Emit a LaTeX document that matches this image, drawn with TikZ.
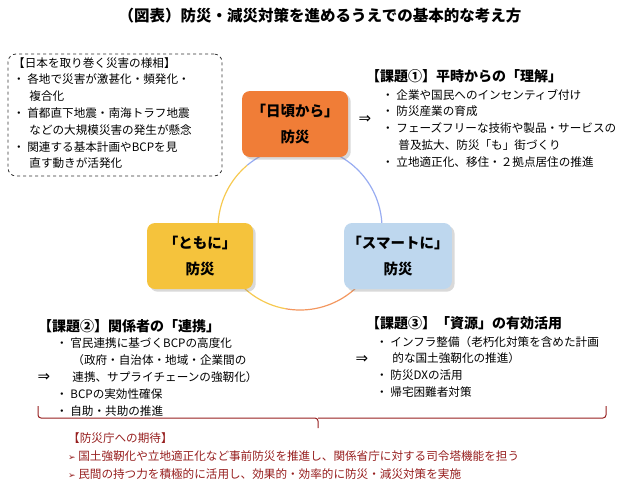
\documentclass[tikz,border=0pt]{standalone}
\usepackage{fontspec}
\setmainfont{Noto Sans CJK JP}
\newfontfamily\djv{DejaVu Sans}
\usetikzlibrary{shadows}
\definecolor{dred}{RGB}{150,30,30}
\definecolor{orng}{RGB}{240,125,55}
\definecolor{ylw}{RGB}{245,195,60}
\definecolor{lblue}{RGB}{190,215,238}
\tikzset{
  card/.style={rounded corners=8pt,minimum width=106pt,minimum height=66pt,align=center,font=\fontsize{14.5}{26}\selectfont\bfseries,drop shadow={opacity=0.3}},
  txt/.style={anchor=north west,align=left,font=\fontsize{11.6}{16.8}\selectfont,inner sep=0pt},
  head/.style={anchor=west,font=\fontsize{14}{15}\selectfont\bfseries,inner sep=0pt},
  arr/.style={font=\fontsize{15}{15}\selectfont,inner sep=0pt}
}
\begin{document}
\begin{tikzpicture}[x=1pt,y=-1pt]
\useasboundingbox (0,0) rectangle (640,488);
\node[font=\fontsize{15.5}{17}\selectfont\bfseries] (title) at (320,16) {（図表）防災・減災対策を進めるうえでの基本的な考え方};
% circle
\draw[orng!80,line width=1.2pt] (300,228) ++(30:82) arc (30:100:82) coordinate (c1);
\draw[ylw!90,line width=1.2pt] (c1) arc (100:230:82) coordinate (c2);
\draw[lblue!80!blue,line width=1.2pt] (c2) arc (230:390:82);
\node[card,fill=orng] (n1) at (295,124) {「日頃から」\\防災};
\node[card,fill=ylw] (n2) at (200,256) {「ともに」\\防災};
\node[card,fill=lblue] (n3) at (398,256) {「スマートに」\\防災};
% left box
\node[draw=black!80,dashed,line width=0.8pt,rounded corners=8pt,minimum width=214pt,minimum height=122pt] (lb) at (115,115) {};
\node[txt] (lt) at (13,57) {【日本を取り巻く災害の様相】\\
・\ 各地で災害が激甚化・頻発化・\\\hspace{1.4em}複合化\\
・\ 首都直下地震・南海トラフ地震\\\hspace{1.4em}などの大規模災害の発生が懸念\\
・\ 関連する基本計画やBCPを見\\\hspace{1.4em}直す動きが活発化};
% k1
\node[head] (h1) at (366,76) {【課題①】平時からの「理解」};
\node[arr] (a1) at (365,120) {\djv ⇒};
\node[txt] (t1) at (382,89) {・\ 企業や国民へのインセンティブ付け\\
・\ 防災産業の育成\\
・\ フェーズフリーな技術や製品・サービスの\\\hspace{1.4em}普及拡大、防災「も」街づくり\\
・\ 立地適正化、移住・２拠点居住の推進};
% k2
\node[head] (h2) at (38,326) {【課題②】関係者の「連携」};
\node[arr] (a2) at (44,378) {\djv ⇒};
\node[txt] (t2) at (56,338) {・\ 官民連携に基づくBCPの高度化\\
\hspace{1.4em}（政府・自治体・地域・企業間の\\\hspace{1.4em}連携、サプライチェーンの強靭化）\\
・\ BCPの実効性確保\\
・\ 自助・共助の推進};
% k3
\node[head] (h3) at (366,323) {【課題③】「資源」の有効活用};
\node[arr] (a3) at (362,360) {\djv ⇒};
\node[txt] (t3) at (376,336) {・\ インフラ整備（老朽化対策を含めた計画\\\hspace{1.4em}的な国土強靭化の推進）\\
・\ 防災DXの活用\\
・\ 帰宅困難者対策};
% brace
\coordinate (bl) at (38,406);
\coordinate (br) at (606,406);
\coordinate (bm) at (318,428);
\draw[dred,line width=1pt,rounded corners=3pt] (bl) -- (38,418) -- (318,418) -- (bm);
\draw[dred,line width=1pt,rounded corners=3pt] (br) -- (606,418) -- (318,418);
\node[txt,text=dred,font=\fontsize{11.6}{18}\selectfont] (bt) at (68,432) {【防災庁への期待】\\
{\djv\fontsize{9}{9}\selectfont ➢} 国土強靭化や立地適正化など事前防災を推進し、関係省庁に対する司令塔機能を担う\\
{\djv\fontsize{9}{9}\selectfont ➢} 民間の持つ力を積極的に活用し、効果的・効率的に防災・減災対策を実施};
\end{tikzpicture}
\end{document}
